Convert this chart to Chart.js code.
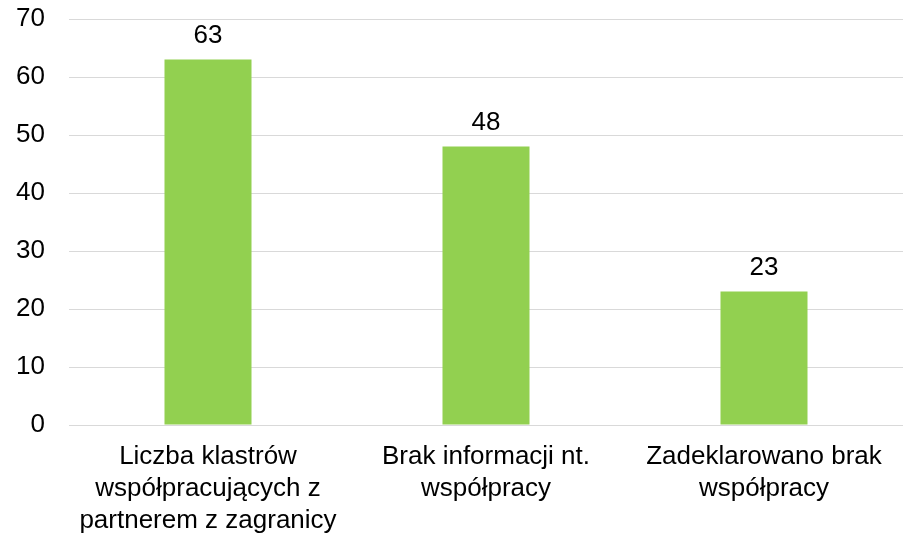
<!DOCTYPE html>
<html>
<head>
<meta charset="utf-8">
<script src="https://cdn.jsdelivr.net/npm/chart.js@4/dist/chart.umd.min.js"></script>
<style>
  html, body { margin: 0; padding: 0; background: #fff; }
</style>
</head>
<body>
<canvas id="KlastryChart" width="903" height="534"></canvas>
<script>
// dane
var categories = [
    ["Liczba klastrów", "współpracujących z", "partnerem z zagranicy"],
    ["Brak informacji nt.", "współpracy"],
    ["Zadeklarowano brak", "współpracy"]
];
var values = [63, 48, 23];
var yTicks = [0, 10, 20, 30, 40, 50, 60, 70];

var fontName = "'Liberation Sans', Arial, sans-serif";

// etykiety nad słupkami
var barLabels = {
    id: "barLabels",
    afterDatasetsDraw: function (chart) {
        var c = chart.ctx;
        var meta = chart.getDatasetMeta(0);
        c.save();
        c.font = "26px " + fontName;
        c.fillStyle = "#000";
        c.textAlign = "center";
        c.textBaseline = "middle";
        meta.data.forEach(function (bar, i) {
            c.fillText(String(values[i]), bar.x, bar.y - 24);
        });
        c.restore();
    }
};

var ctx = document.getElementById("KlastryChart");
new Chart(ctx, {
    type: "bar",
    data: {
        labels: categories,
        datasets: [
            {
                data: values,
                backgroundColor: "#92D050",
                categoryPercentage: 1,
                barPercentage: 0.313,
            },
        ],
    },
    options: {
        responsive: false,
        animation: false,
        layout: {
            padding: { top: 0, right: 0, bottom: 0, left: 0 },
        },
        plugins: {
            legend: { display: false },
            tooltip: { enabled: false },
        },
        scales: {
            x: {
                grid: { display: false, drawTicks: false },
                border: { display: true, color: "#d9d9d9", width: 1 },
                ticks: {
                    color: "#000",
                    padding: 16,
                    maxRotation: 0,
                    autoSkip: false,
                    font: { family: fontName, size: 26, lineHeight: 1.23 },
                },
                afterFit: function (axis) { axis.height = 109; },
            },
            y: {
                min: 0,
                max: 70,
                afterBuildTicks: function (axis) {
                    axis.ticks = yTicks.map(function (v) { return { value: v }; });
                },
                grid: { color: "#d9d9d9", lineWidth: 1, drawTicks: false },
                border: { display: false },
                ticks: {
                    color: "#000",
                    padding: 24,
                    font: { family: fontName, size: 26 },
                },
                afterFit: function (axis) {
                    axis.width = 69;
                    axis.paddingTop = 19;
                    axis.paddingBottom = 0;
                },
            },
        },
    },
    plugins: [barLabels],
});
</script>
</body>
</html>
